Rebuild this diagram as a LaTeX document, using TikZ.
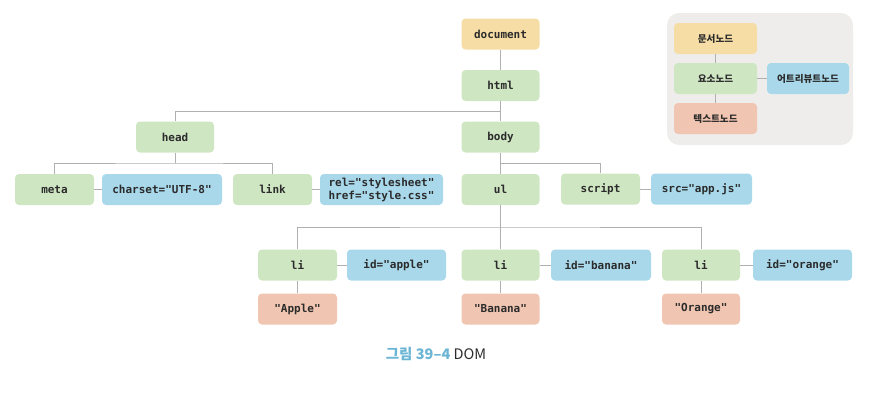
\documentclass[tikz,border=0pt]{standalone}
\usepackage{fontspec}
\setmonofont{DejaVu Sans Mono}
\newfontfamily\kofont{Noto Sans CJK KR}
\definecolor{domink}{HTML}{2B2B2B}
\definecolor{domline}{HTML}{B0B0B0}
\definecolor{domgreen}{HTML}{CFE6C3}
\definecolor{domorange}{HTML}{F6DDA5}
\definecolor{domblue}{HTML}{A8D8EA}
\definecolor{domsalmon}{HTML}{F0C5B1}
\definecolor{domlegend}{HTML}{EEEDEB}
\definecolor{domcaption}{HTML}{6AB4D4}
\tikzset{
  dombox/.style={rounded corners=4pt, minimum width=78pt, minimum height=31pt,
    inner sep=0pt, text=domink, font=\ttfamily\bfseries\fontsize{11}{13}\selectfont},
  elemnode/.style={dombox, fill=domgreen},
  docnode/.style={dombox, fill=domorange},
  attrnode/.style={dombox, fill=domblue},
  textnode/.style={dombox, fill=domsalmon},
  legbox/.style={minimum width=83pt, font=\kofont\bfseries\fontsize{9.6}{11}\selectfont},
  conn/.style={domline, line width=0.8pt},
}

\begin{document}
\begin{tikzpicture}[x=1pt, y=-1pt]
  \useasboundingbox (0,0) rectangle (878,402);

  % tree
  \node[docnode] (document) at (500.5,34) {document};
  \node[elemnode] (html) at (500.5,85.5) {html};
  \node[elemnode] (head) at (175,137) {head};
  \node[elemnode] (body) at (500.5,137) {body};

  \node[elemnode, minimum width=79pt] (meta) at (54.5,189.5) {meta};
  \node[attrnode, minimum width=120pt] (charset) at (162,189.5) {charset="UTF-8"};
  \node[elemnode, minimum width=79pt] (link) at (272.5,189.5) {link};
  \node[attrnode, minimum width=123pt, align=left] (linkattr) at (381.5,189.5)
    {rel="stylesheet"\\href="style.css"};
  \node[elemnode] (ul) at (500.5,189.5) {ul};
  \node[elemnode, minimum width=79pt] (script) at (600.5,189) {script};
  \node[attrnode, minimum width=101pt] (src) at (701.5,189) {src="app.js"};

  \node[elemnode, minimum width=79pt] (liapple) at (297.5,265) {li};
  \node[attrnode, minimum width=99pt] (idapple) at (396.5,265) {id="apple"};
  \node[elemnode] (libanana) at (500.5,265) {li};
  \node[attrnode, minimum width=100pt] (idbanana) at (601,265) {id="banana"};
  \node[elemnode] (liorange) at (701,265) {li};
  \node[attrnode, minimum width=99pt] (idorange) at (802.5,265) {id="orange"};

  \node[textnode, minimum width=79pt] (apple) at (297.5,309) {"Apple"};
  \node[textnode] (banana) at (500.5,309) {"Banana"};
  \node[textnode] (orange) at (701,309) {"Orange"};

  \coordinate (htmlsplit) at (500.5,111);
  \coordinate (headsplit) at (175,163);
  \coordinate (bodysplit) at (500.5,163);
  \coordinate (ulsplit) at (500.5,227);

  \draw[conn] (document) -- (html);
  \draw[conn] (html) -- (body);
  \draw[conn] (head.north) |- (htmlsplit);
  \draw[conn] (head) -- (headsplit);
  \draw[conn] (meta.north) |- (headsplit) -| (link.north);
  \draw[conn] (meta) -- (charset);
  \draw[conn] (link) -- (linkattr);
  \draw[conn] (body) -- (ul);
  \draw[conn] (bodysplit) -| (script.north);
  \draw[conn] (script) -- (src);
  \draw[conn] (ul) -- (libanana);
  \draw[conn] (liapple.north) |- (ulsplit) -| (liorange.north);
  \draw[conn] (liapple) -- (idapple);
  \draw[conn] (libanana) -- (idbanana);
  \draw[conn] (liorange) -- (idorange);
  \draw[conn] (liapple) -- (apple);
  \draw[conn] (libanana) -- (banana);
  \draw[conn] (liorange) -- (orange);

  % legend
  \fill[domlegend, rounded corners=12pt] (667,13) rectangle (853,145);
  \node[docnode, legbox] (legdoc) at (715.5,38.5) {문서노드};
  \node[elemnode, legbox] (legelem) at (715.5,78.5) {요소노드};
  \node[textnode, legbox] (legtext) at (715.5,118.5) {텍스트노드};
  \node[attrnode, legbox, minimum width=82pt] (legattr) at (808,78.5) {어트리뷰트노드};
  \draw[conn] (legdoc) -- (legelem);
  \draw[conn] (legelem) -- (legtext);
  \draw[conn] (legelem) -- (legattr);

  % caption
  \node[font=\kofont\fontsize{14.5}{16}\selectfont, text=domink] (caption) at (436,354)
    {\textcolor{domcaption}{\bfseries 그림 39–4} DOM};
\end{tikzpicture}
\end{document}
